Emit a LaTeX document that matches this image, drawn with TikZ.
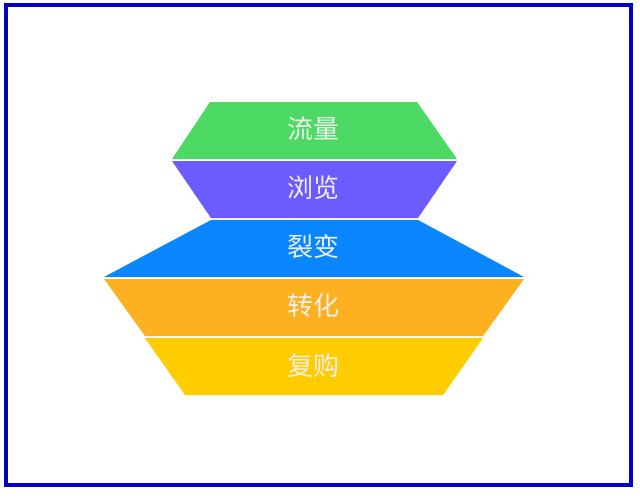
\documentclass[tikz,border=0pt]{standalone}
\usepackage{fontspec}
\newfontfamily\cjk{Noto Sans CJK SC}
\definecolor{frameblue}{HTML}{0000C8}
\definecolor{lgreen}{HTML}{4CD964}
\definecolor{lpurple}{HTML}{6C5CFF}
\definecolor{lblue}{HTML}{0A86FF}
\definecolor{lorange}{HTML}{FDB121}
\definecolor{lyellow}{HTML}{FFCC00}
\tikzset{
  layer/.style={inner sep=0pt, text=white!94!black, font=\cjk\fontsize{26}{26}\selectfont}
}
\begin{document}
\begin{tikzpicture}[x=1pt,y=-1pt]
        \useasboundingbox (0,0) rectangle (640,499);
        \draw[frameblue, line width=4pt] (6,5) rectangle (631,485);
        % layers, top to bottom
        \fill[lgreen] (210,102) -- (417,102) -- (457,159) -- (172,159) -- cycle;
        \fill[lpurple] (172,161) -- (457,161) -- (418,218) -- (211,218) -- cycle;
        \fill[lblue] (211,220) -- (418,220) -- (524,277) -- (104,277) -- cycle;
        \fill[lorange] (104,279) -- (524,279) -- (483,336) -- (145,336) -- cycle;
        \fill[lyellow] (145,338) -- (483,338) -- (443,395) -- (185,395) -- cycle;
        \node[layer] (liuliang) at (313.5,129) {流量};
        \node[layer] (liulan) at (313.5,188) {浏览};
        \node[layer] (liebian) at (313.5,247) {裂变};
        \node[layer] (zhuanhua) at (313.5,306) {转化};
        \node[layer] (fugou) at (313.5,366) {复购};
    \end{tikzpicture}
\end{document}
